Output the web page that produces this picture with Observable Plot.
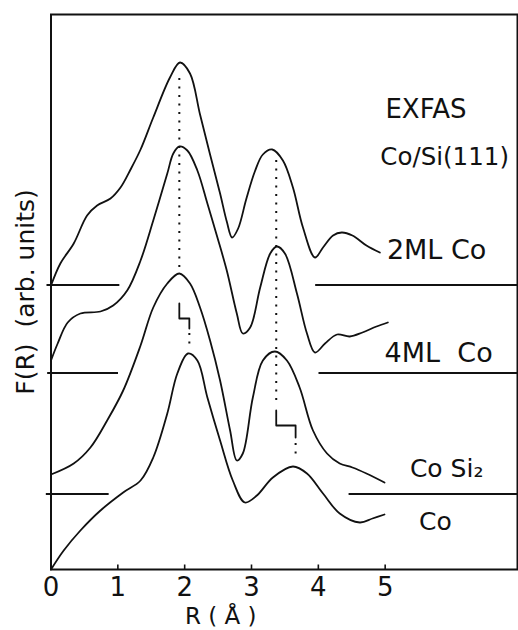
<!DOCTYPE html>
<html>
<head>
<meta charset="utf-8">
<script src="https://cdn.jsdelivr.net/npm/d3@7"></script>
<script src="https://cdn.jsdelivr.net/npm/@observablehq/plot@0.6"></script>
<style>
  html, body { margin: 0; padding: 0; background: #fff; }
  #chart { width: 518px; height: 630px; }
</style>
</head>
<body>
<div id="chart"></div>
<script>
// ---- data (R in Å, F in arbitrary units) ----
const R_2ML = [0, 0.14, 0.34, 0.54, 0.69, 0.89, 1.04, 1.19, 1.34, 1.53, 1.78, 1.93, 2.08, 2.23, 2.38, 2.53, 2.63, 2.71, 2.80, 2.92, 3.05, 3.17, 3.31, 3.47, 3.62, 3.77, 3.95, 4.07, 4.22, 4.35, 4.51, 4.72, 4.92];
const F_2ML = [28.4, 30.6, 32.6, 35.4, 36.4, 37.1, 38.2, 40.0, 42.0, 45.2, 49.2, 50.7, 49.6, 45.5, 41.5, 37.6, 34.8, 33.2, 34.1, 37.0, 39.8, 41.5, 42.0, 40.9, 38.2, 34.2, 31.2, 32.2, 33.4, 33.7, 33.4, 32.4, 31.7];

const R_4ML = [0, 0.10, 0.25, 0.44, 0.74, 0.93, 1.14, 1.34, 1.53, 1.74, 1.83, 1.92, 2.04, 2.19, 2.34, 2.49, 2.63, 2.78, 2.87, 2.98, 3.13, 3.28, 3.38, 3.50, 3.68, 3.83, 3.95, 4.10, 4.28, 4.47, 4.66, 4.87, 5.04];
const F_4ML = [20.9, 22.6, 24.7, 25.6, 25.8, 26.4, 27.9, 30.9, 34.9, 39.6, 41.6, 42.3, 41.9, 39.9, 36.6, 33.2, 29.9, 25.6, 23.6, 24.2, 28.2, 31.6, 32.3, 31.6, 27.6, 23.6, 21.7, 22.6, 23.5, 23.3, 23.7, 24.3, 24.7];

const R_CoSi2 = [0, 0.34, 0.59, 0.84, 1.08, 1.34, 1.53, 1.74, 1.92, 2.08, 2.23, 2.38, 2.53, 2.68, 2.78, 2.87, 3.02, 3.17, 3.35, 3.53, 3.72, 3.92, 4.13, 4.32, 4.51, 4.72, 4.99];
const F_CoSi2 = [9.5, 10.6, 12.2, 14.9, 17.9, 22.4, 26.2, 28.6, 29.6, 28.6, 26.2, 22.9, 18.9, 13.9, 10.9, 11.6, 17.2, 20.9, 21.8, 20.9, 18.2, 13.9, 11.6, 10.6, 10.2, 9.6, 8.7];

const R_Co = [0, 0.19, 0.44, 0.74, 1.08, 1.34, 1.53, 1.74, 1.89, 2.05, 2.19, 2.34, 2.53, 2.72, 2.90, 3.08, 3.32, 3.62, 3.83, 4.07, 4.32, 4.62, 4.81, 4.99];
const F_Co = [0, 1.9, 3.9, 5.9, 7.7, 8.9, 11.2, 15.6, 19.6, 21.6, 20.9, 17.2, 12.9, 8.9, 6.7, 7.4, 9.2, 10.3, 9.6, 7.6, 5.6, 4.7, 5.1, 5.5];

// baselines (zero level of each shifted curve): level, left segment, right segment
const baseNames = ["2ML Co", "4ML Co", "CoSi2"];
const baseLevel = [28.45, 19.65, 7.55];
const baseLeft = [[-0.06, 1.03], [-0.05, 1.01], [-0.07, 0.87]];
const baseRight = [[3.96, 6.98], [4.01, 6.98], [4.46, 6.98]];

// peak-position guides (dotted) and shift steps (solid)
const guideR = [1.92, 2.07, 3.37, 3.66];
const guideTop = [49.1, 23.6, 40.9, 12.6];
const guideBottom = [30.2, 22.0, 16.6, 11.1];
const step1R = [1.92, 1.92, 2.07, 2.07];
const step1F = [26.6, 25.1, 25.1, 24.1];
const step2R = [3.37, 3.37, 3.66, 3.66];
const step2F = [15.9, 14.4, 14.4, 13.2];

const xTicks = [0, 1, 2, 3, 4, 5];
const xLabel = "R ( Å )";
const yLabel = "F(R)\u00a0\u00a0(arb. units)";

// curve labels
const labels = [
  {text: "EXFAS", R: 5.61, F: 46.0, size: 26, anchor: "middle"},
  {text: "Co/Si(111)", R: 5.89, F: 41.2, size: 24.5, anchor: "middle"},
  {text: "2ML Co", R: 5.77, F: 31.9, size: 27, anchor: "middle"},
  {text: "4ML\u00a0\u00a0Co", R: 5.80, F: 21.6, size: 27, anchor: "middle"},
  {text: "Co Si\u2082", R: 5.37, F: 10.1, size: 25, anchor: "start"},
  {text: "Co", R: 5.75, F: 4.8, size: 25, anchor: "middle"}
];

// ---- build tables ----
const toPts = (R, F) => R.map((r, i) => ({R: r, F: F[i]}));
const curves = [toPts(R_2ML, F_2ML), toPts(R_4ML, F_4ML), toPts(R_CoSi2, F_CoSi2), toPts(R_Co, F_Co)];
const baseSegs = [];
baseNames.forEach((n, i) => {
  baseSegs.push({x1: baseLeft[i][0], x2: baseLeft[i][1], y: baseLevel[i]});
  baseSegs.push({x1: baseRight[i][0], x2: baseRight[i][1], y: baseLevel[i]});
});
const guides = guideR.map((r, i) => ({R: r, y1: guideTop[i], y2: guideBottom[i]}));

const font = "'DejaVu Sans', sans-serif";

const marks = [
  Plot.frame({stroke: "#111", strokeWidth: 2}),
  ...curves.map(c => Plot.line(c, {x: "R", y: "F", curve: "catmull-rom", stroke: "#111", strokeWidth: 1.8})),
  Plot.ruleY(baseSegs, {y: "y", x1: "x1", x2: "x2", stroke: "#111", strokeWidth: 1.8}),
  Plot.ruleX(guides, {x: "R", y1: "y1", y2: "y2", stroke: "#111", strokeWidth: 2, strokeDasharray: "2,6.5"}),
  Plot.line(toPts(step1R, step1F), {x: "R", y: "F", stroke: "#111", strokeWidth: 1.8}),
  Plot.line(toPts(step2R, step2F), {x: "R", y: "F", stroke: "#111", strokeWidth: 1.8}),
  Plot.ruleX(xTicks, {x: d => d, y1: 0, y2: 0.45, stroke: "#111", strokeWidth: 1.6}),
  Plot.axisX({ticks: xTicks, tickSize: 0, tickPadding: 8, fontSize: 26, tickFormat: d => String(d), label: null, fill: "#111"}),
  Plot.axisY({ticks: [], label: null}),
  Plot.text([xLabel], {x: 2.54, y: -4.7, text: d => d, fontSize: 23, fill: "#111"}),
  Plot.text([yLabel], {frameAnchor: "left", dx: -25, rotate: -90, textAnchor: "middle", lineAnchor: "middle", text: d => d, fontSize: 25, fill: "#111"}),
  ...labels.map(l => Plot.text([l], {x: "R", y: "F", text: "text", fontSize: l.size, textAnchor: l.anchor, fill: "#111"}))
];

const chart = Plot.plot({
  width: 518,
  height: 630,
  marginLeft: 50.5,
  marginRight: 1,
  marginTop: 14,
  marginBottom: 61,
  x: {domain: [0, 6.98]},
  y: {domain: [0, 55.5]},
  style: {fontFamily: font, background: "#fff", color: "#111", overflow: "visible"},
  marks
});
document.getElementById("chart").appendChild(chart);
</script>
</body>
</html>
